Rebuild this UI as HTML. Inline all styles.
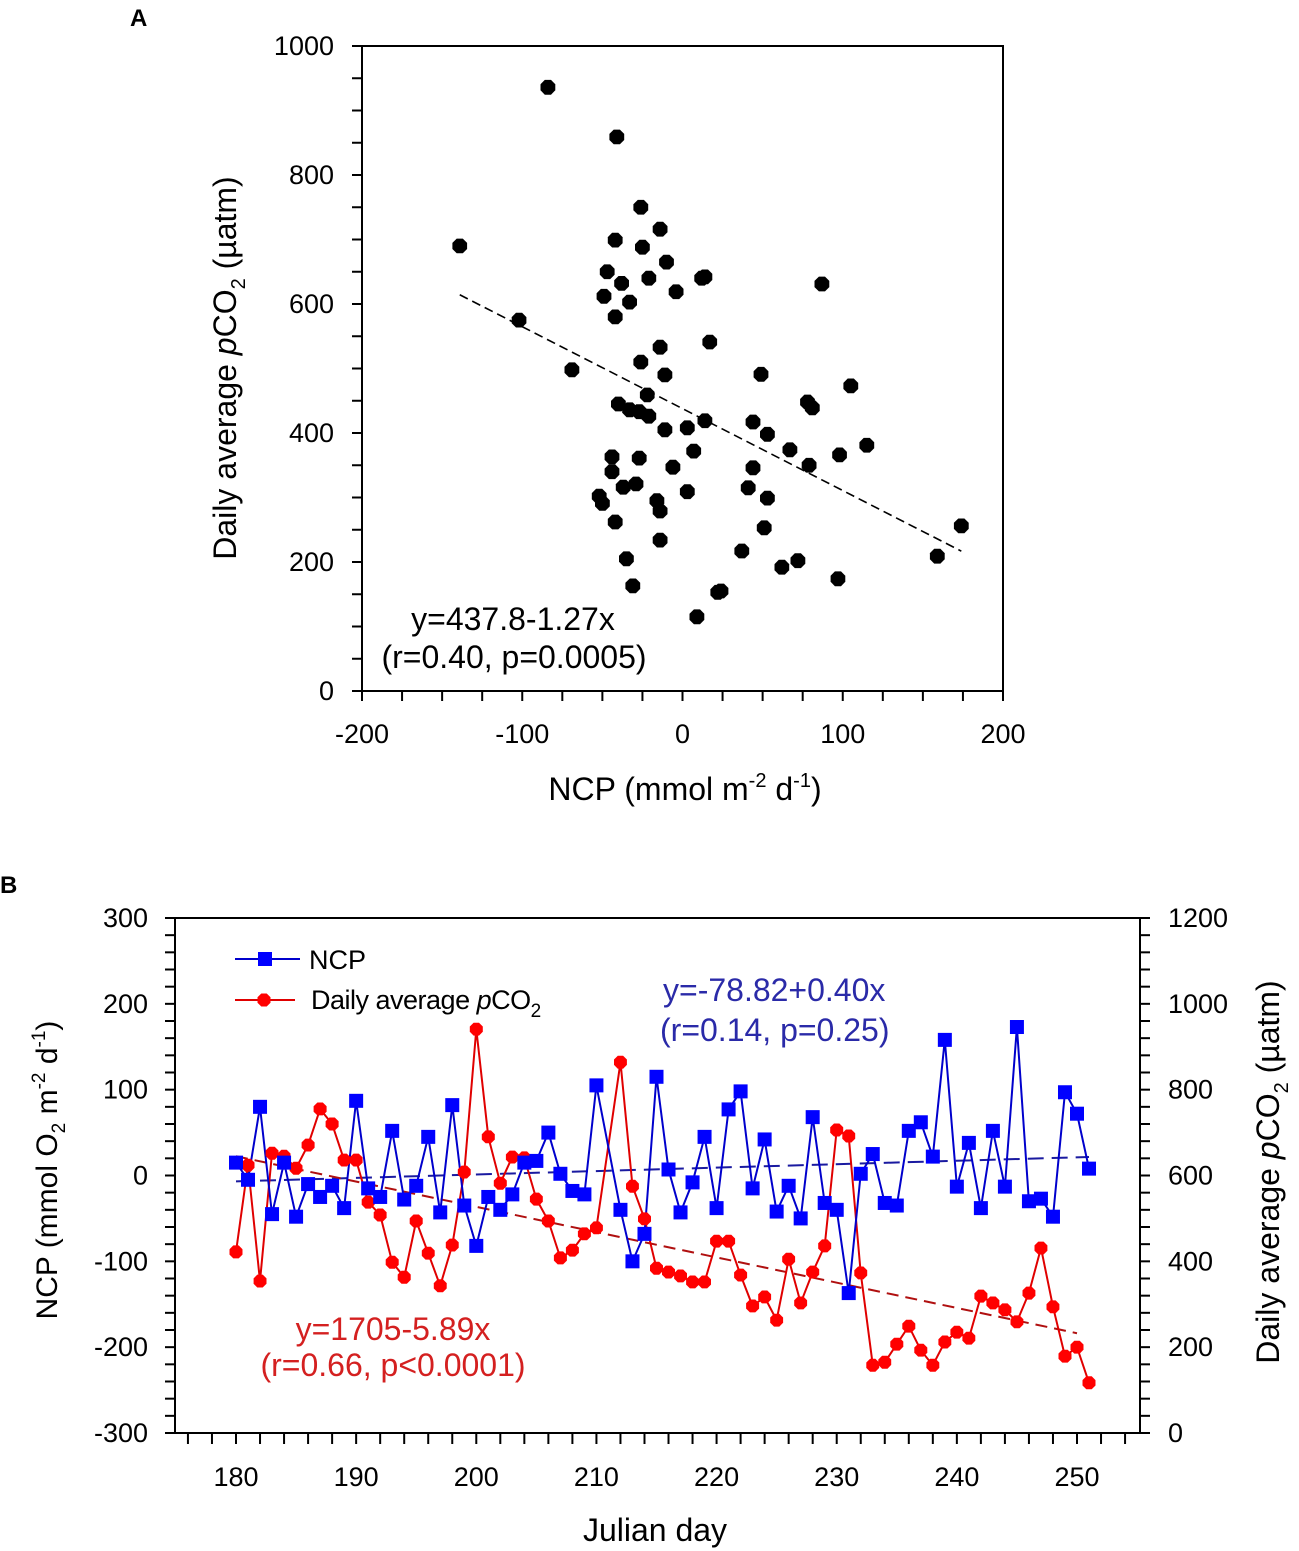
<!DOCTYPE html>
<html><head><meta charset="utf-8"><style>
html,body{margin:0;padding:0;background:#fff;}
svg{display:block;font-family:"Liberation Sans",Arial,sans-serif;}
</style></head><body>
<svg id="svg" width="1299" height="1551" viewBox="0 0 1299 1551" xmlns="http://www.w3.org/2000/svg">
<text x="130" y="26" font-size="24" font-weight="bold">A</text>
<text x="0" y="893" font-size="24" font-weight="bold">B</text>
<g id="pa"></g>
<g id="pb"></g>
</svg>
<script>
// ---------- Panel A data ----------
const ncpA = [-139,-84,-41,-102,-69,-26,-42,-25,-14,-10,-47,-38,-49,-33,-42,-21,-4,12,14,87,17,-14,-26,-11,-22,-40,-33,-27,-21,-11,3,14,49,105,78,81,44,53,-44,-27,-44,7,-6,67,44,79,115,98,-37,-29,-52,-50,-16,-14,3,41,53,-42,51,-14,-35,37,62,72,-31,22,24,9,97,159,174];
const pco2A = [690,936,859,575,498,750,699,688,716,665,650,632,612,603,580,640,619,640,642,631,541,533,510,490,459,445,436,433,426,405,408,419,491,473,448,439,417,398,363,361,340,372,347,374,346,350,381,366,316,321,302,291,295,279,309,315,299,262,253,234,205,217,192,202,163,153,155,115,174,209,256];
const ticksAx = [-200,-100,0,100,200];
const ticksAy = [0,200,400,600,800,1000];

// ---------- Panel B data ----------
const days = [];
for (let d = 180; d <= 251; d++) days.push(d);
const ncpB = [15,-5,80,-45,15,-48,-10,-25,-12,-38,87,-15,-25,52,-28,-12,45,-43,82,-35,-82,-25,-40,-22,15,17,50,2,-18,-22,105,null,-40,-100,-68,115,7,-43,-8,45,-38,77,98,-15,42,-42,-12,-50,68,-32,-40,-137,2,25,-32,-35,52,62,22,158,-13,38,-38,52,-13,173,-30,-27,-48,97,72,8];
const pco2B = [422,624,354,652,645,617,671,755,720,636,636,538,508,398,363,494,419,343,438,608,941,690,582,643,641,545,494,408,426,464,478,null,864,575,499,384,375,366,352,352,447,447,368,296,317,263,405,303,375,436,706,692,373,158,165,207,249,193,158,212,235,221,319,303,287,259,326,431,294,179,200,117];
const ticksBx = [180,190,200,210,220,230,240,250];
const ticksBl = [-300,-200,-100,0,100,200,300];
const ticksBr = [0,200,400,600,800,1000,1200];

const NS = "http://www.w3.org/2000/svg";
function mk(parent, tag, attrs, txt){
  const e = document.createElementNS(NS, tag);
  for (const k in attrs) e.setAttribute(k, attrs[k]);
  if (txt !== undefined) e.textContent = txt;
  parent.appendChild(e);
  return e;
}
function octagon(cx, cy, r){
  let p = [];
  for (let i = 0; i < 8; i++){ const a = Math.PI/8 + i*Math.PI/4; p.push((cx + r*Math.cos(a)).toFixed(1)+","+(cy + r*Math.sin(a)).toFixed(1)); }
  return p.join(" ");
}

// ---------- Panel A ----------
const pa = document.getElementById('pa');
const AX0 = 362, AX1 = 1003, AY0 = 691, AY1 = 46;
const ax = v => AX0 + (v + 200) / 400 * (AX1 - AX0);
const ay = v => AY0 - v / 1000 * (AY0 - AY1);
let el = mk(pa, 'rect', {x:AX0, y:AY1, width:AX1-AX0, height:AY0-AY1, fill:'none', stroke:'#000', 'stroke-width':2});


for (let v = 0; v <= 1000; v += 50){
  el = mk(pa, 'line', {x1:AX0-10, x2:AX0, y1:ay(v), y2:ay(v), stroke:'#000', 'stroke-width':2});
  
  
}
for (let v = -200; v <= 200; v += 25){
  el = mk(pa, 'line', {x1:ax(v), x2:ax(v), y1:AY0, y2:AY0+10, stroke:'#000', 'stroke-width':2});
  
  
}
ticksAy.forEach(v => {
  el = mk(pa, 'text', {x:AX0-28, y:ay(v)+9, 'font-size':27, 'text-anchor':'end'}, String(v));
  
  
});
ticksAx.forEach(v => {
  el = mk(pa, 'text', {x:ax(v), y:AY0+52, 'font-size':27, 'text-anchor':'middle'}, String(v));
  
  
});
el = mk(pa, 'line', {x1:ax(-139), y1:ay(437.8+1.27*139), x2:ax(174), y2:ay(437.8-1.27*174), stroke:'#000', 'stroke-width':1.6, 'stroke-dasharray':'9,5'});


ncpA.forEach((v, i) => {
  el = mk(pa, 'polygon', {points:octagon(ax(v), ay(pco2A[i]), 8), fill:'#000'});
  
  
});
el = mk(pa, 'text', {x:513, y:630, 'font-size':32, 'text-anchor':'middle'}, 'y=437.8-1.27x');


el = mk(pa, 'text', {x:514, y:668, 'font-size':32, 'text-anchor':'middle'}, '(r=0.40, p=0.0005)');


el = mk(pa, 'text', {x:685, y:800, 'font-size':32, 'text-anchor':'middle'});


el.innerHTML = 'NCP (mmol m<tspan dy="-13" font-size="20">-2</tspan><tspan dy="13"> d</tspan><tspan dy="-13" font-size="20">-1</tspan><tspan dy="13">)</tspan>';
el = mk(pa, 'text', {x:0, y:0, 'font-size':32, 'text-anchor':'middle', transform:'translate(236,368) rotate(-90)'});


el.innerHTML = 'Daily average <tspan font-style="italic">p</tspan>CO<tspan dy="9" font-size="20">2</tspan><tspan dy="-9"> (µatm)</tspan>';

// ---------- Panel B ----------
const pb = document.getElementById('pb');
const BX0 = 175, BX1 = 1140, BY0 = 1433, BY1 = 918;
const bx = d => 236 + (d - 180) * (1077 - 236) / 70;
const byL = v => BY0 - (v + 300) / 600 * (BY0 - BY1);
const byR = v => BY0 - v / 1200 * (BY0 - BY1);
el = mk(pb, 'rect', {x:BX0, y:BY1, width:BX1-BX0, height:BY0-BY1, fill:'none', stroke:'#000', 'stroke-width':2});


for (let v = -300; v <= 300; v += 20){
  el = mk(pb, 'line', {x1:BX0-10, x2:BX0, y1:byL(v), y2:byL(v), stroke:'#000', 'stroke-width':2});
  
  
}
for (let v = 0; v <= 1200; v += 40){
  el = mk(pb, 'line', {x1:BX1, x2:BX1+10, y1:byR(v), y2:byR(v), stroke:'#000', 'stroke-width':2});
  
  
}
for (let d = 176; d <= 258; d += 2){
  if (bx(d) < BX0 || bx(d) > BX1) continue;
  el = mk(pb, 'line', {x1:bx(d), x2:bx(d), y1:BY0, y2:BY0+11, stroke:'#000', 'stroke-width':2});
  
  
}
ticksBl.forEach(v => {
  el = mk(pb, 'text', {x:BX0-27, y:byL(v)+9, 'font-size':27, 'text-anchor':'end'}, String(v));
  
  
});
ticksBr.forEach(v => {
  el = mk(pb, 'text', {x:BX1+28, y:byR(v)+9, 'font-size':27, 'text-anchor':'start'}, String(v));
  
  
});
ticksBx.forEach(v => {
  el = mk(pb, 'text', {x:bx(v), y:BY0+53, 'font-size':27, 'text-anchor':'middle'}, String(v));
  
  
});
// regression lines
el = mk(pb, 'line', {x1:bx(180), y1:byL(-78.82+0.40*180), x2:bx(251), y2:byL(-78.82+0.40*251), stroke:'#1a1aa0', 'stroke-width':2, 'stroke-dasharray':'16,8'});


el = mk(pb, 'line', {x1:bx(180), y1:byR(1705-5.89*180), x2:bx(250), y2:byR(1705-5.89*250), stroke:'#b01010', 'stroke-width':2, 'stroke-dasharray':'12,7'});


function seriesPath(vals, yf){
  let d = '', pen = false;
  vals.forEach((v, i) => {
    if (v === null) return;
    d += (pen ? 'L' : 'M') + bx(days[i]).toFixed(1) + ',' + yf(v).toFixed(1);
    pen = true;
  });
  return d;
}
el = mk(pb, 'path', {d:seriesPath(pco2B, byR), fill:'none', stroke:'#e00000', 'stroke-width':2});


el = mk(pb, 'path', {d:seriesPath(ncpB, byL), fill:'none', stroke:'#0000cc', 'stroke-width':2});


pco2B.forEach((v, i) => {
  if (v === null) return;
  el = mk(pb, 'polygon', {points:octagon(bx(days[i]), byR(v), 7), fill:'#ff0000'});
  
  
});
ncpB.forEach((v, i) => {
  if (v === null) return;
  el = mk(pb, 'rect', {x:bx(days[i])-7, y:byL(v)-7, width:14, height:14, fill:'#0000ff'});
  
  
});
// legend
el = mk(pb, 'line', {x1:235, x2:300, y1:959, y2:959, stroke:'#0000cc', 'stroke-width':2});


el = mk(pb, 'rect', {x:258, y:952, width:14, height:14, fill:'#0000ff'});


el = mk(pb, 'text', {x:309, y:969, 'font-size':27}, 'NCP');


el = mk(pb, 'line', {x1:235, x2:295, y1:1000, y2:1000, stroke:'#e00000', 'stroke-width':2});


el = mk(pb, 'polygon', {points:octagon(264, 1000, 7), fill:'#ff0000'});


el = mk(pb, 'text', {x:311, y:1009, 'font-size':27, 'letter-spacing':'-0.5'});


el.innerHTML = 'Daily average <tspan font-style="italic">p</tspan>CO<tspan dy="8" font-size="19">2</tspan>';
// equations
el = mk(pb, 'text', {x:663, y:1001, 'font-size':32, fill:'#2a2aa8'}, 'y=-78.82+0.40x');


el = mk(pb, 'text', {x:660, y:1041, 'font-size':32, fill:'#2a2aa8'}, '(r=0.14, p=0.25)');


el = mk(pb, 'text', {x:393, y:1340, 'font-size':32, fill:'#d42020', 'text-anchor':'middle'}, 'y=1705-5.89x');


el = mk(pb, 'text', {x:393, y:1376, 'font-size':32, fill:'#d42020', 'text-anchor':'middle'}, '(r=0.66, p<0.0001)');


// axis titles
el = mk(pb, 'text', {x:655, y:1541, 'font-size':32, 'text-anchor':'middle'}, 'Julian day');


el = mk(pb, 'text', {x:0, y:0, 'font-size':30, 'text-anchor':'middle', transform:'translate(57,1170) rotate(-90)'});


el.innerHTML = 'NCP (mmol O<tspan dy="8" font-size="19">2</tspan><tspan dy="-8"> m</tspan><tspan dy="-12" font-size="19">-2</tspan><tspan dy="12"> d</tspan><tspan dy="-12" font-size="19">-1</tspan><tspan dy="12">)</tspan>';
el = mk(pb, 'text', {x:0, y:0, 'font-size':32, 'text-anchor':'middle', transform:'translate(1279,1172) rotate(-90)'});


el.innerHTML = 'Daily average <tspan font-style="italic">p</tspan>CO<tspan dy="9" font-size="20">2</tspan><tspan dy="-9"> (µatm)</tspan>';
</script>
</body></html>
